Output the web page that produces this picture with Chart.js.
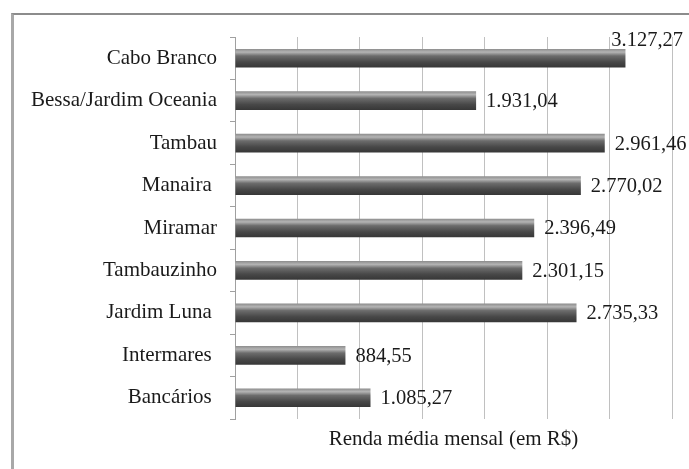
<!DOCTYPE html>
<html>
<head>
<meta charset="utf-8">
<script src="https://cdn.jsdelivr.net/npm/chart.js@4"></script>
<style>
  html, body { margin: 0; padding: 0; background: #fff; overflow: hidden; }
  #wrap { position: relative; width: 689px; height: 469px; }
  #frame { position: absolute; left: 11px; top: 13px; width: 700px; height: 470px;
           border-left: 3px solid #a8a8a8; border-top: 2px solid #8c8c8c; }
  canvas { position: absolute; left: 0; top: 0; }
</style>
</head>
<body>
<div id="wrap">
  <div id="frame"></div>
  <canvas id="rendaChart" width="689" height="469"></canvas>
</div>
<script>
// Bairros e renda média mensal (R$)
const bairros = ['Cabo Branco', 'Bessa/Jardim Oceania', 'Tambau', 'Manaira ', 'Miramar',
  'Tambauzinho', 'Jardim Luna ', 'Intermares ', 'Bancários '];
const renda = [3127.27, 1931.04, 2961.46, 2770.02, 2396.49, 2301.15, 2735.33, 884.55, 1085.27];
const rendaLabels = ['3.127,27', '1.931,04', '2.961,46', '2.770,02', '2.396,49',
  '2.301,15', '2.735,33', '884,55', '1.085,27'];
const eixoTitulo = 'Renda média mensal (em R$)';

const serif = '"Liberation Serif", "Times New Roman", serif';

// Cylinder-like shading for each bar
function barGradient(c) {
  const chart = c.chart;
  const y = chart.scales && chart.scales.y;
  if (!y || c.dataIndex === undefined) return '#555';
  const cy = y.getPixelForValue(c.dataIndex);
  if (!isFinite(cy)) return '#555';
  const h = 9.5;
  const g = chart.ctx.createLinearGradient(0, cy - h, 0, cy + h);
  g.addColorStop(0, '#8a8a8a');
  g.addColorStop(0.18, '#b4b4b4');
  g.addColorStop(0.38, '#6c6c6c');
  g.addColorStop(0.7, '#484848');
  g.addColorStop(1, '#363636');
  return g;
}

// Value labels at the end of each bar
const valueLabels = {
  id: 'valueLabels',
  afterDatasetsDraw(chart) {
    const ctx = chart.ctx;
    const meta = chart.getDatasetMeta(0);
    ctx.save();
    ctx.font = '20.5px ' + serif;
    ctx.fillStyle = '#1a1a1a';
    ctx.textBaseline = 'middle';
    ctx.textAlign = 'left';
    meta.data.forEach((bar, i) => {
      const txt = rendaLabels[i];
      const w = ctx.measureText(txt).width;
      let x = bar.x + 10;
      let y = bar.y + 1;
      if (x + w > chart.width) {
        x = chart.width - 6 - w;
        y = bar.y - 18;
      }
      ctx.fillText(txt, x, y);
    });
    ctx.restore();
  }
};

new Chart(document.getElementById('rendaChart').getContext('2d'), {
  type: 'bar',
  data: {
    labels: bairros,
    datasets: [{
      data: renda,
      backgroundColor: barGradient,
      borderWidth: 0,
      categoryPercentage: 1,
      barPercentage: 0.44
    }]
  },
  options: {
    indexAxis: 'y',
    responsive: false,
    animation: false,
    layout: { padding: { top: 37, right: 17, bottom: 0, left: 0 } },
    plugins: {
      legend: { display: false },
      tooltip: { enabled: false }
    },
    scales: {
      x: {
        min: 0,
        max: 3500,
        ticks: { display: false, stepSize: 500 },
        grid: { color: '#c0c0c0', lineWidth: 1, drawTicks: false },
        border: { display: false },
        title: {
          display: true,
          text: eixoTitulo,
          color: '#1a1a1a',
          font: { family: serif, size: 21 },
          padding: { top: 0, bottom: 17 }
        },
        afterFit: s => { s.height = 50; }
      },
      y: {
        offset: true,
        ticks: { color: '#1a1a1a', font: { family: serif, size: 21 }, padding: 13 },
        grid: { drawOnChartArea: false, drawTicks: true, tickLength: 5, color: '#a0a0a0', offset: true },
        border: { display: true, color: '#a0a0a0' },
        afterFit: s => { s.width = 235; }
      }
    }
  },
  plugins: [valueLabels]
});
</script>
</body>
</html>
